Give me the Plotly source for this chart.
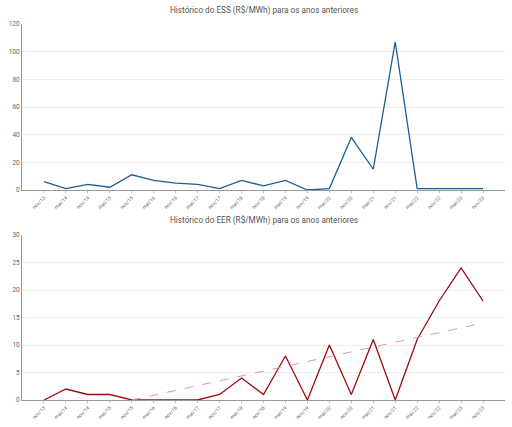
import plotly.graph_objects as go

# Períodos (semestres)
periodos = ["nov/13", "mai/14", "nov/14", "mai/15", "nov/15", "mai/16", "nov/16",
            "mai/17", "nov/17", "mai/18", "nov/18", "mai/19", "nov/19", "mai/20",
            "nov/20", "mai/21", "nov/21", "mai/22", "nov/22", "mai/23", "nov/23"]

# Valores
ess = [6, 1, 4, 2, 11, 7, 5, 4, 1, 7, 3, 7, 0, 1, 38, 15, 107, 1, 1, 1, 1]
eer = [0, 2, 1, 1, 0, 0, 0, 0, 1, 4, 1, 8, 0, 10, 1, 11, 0, 11, 18, 24, 18]

# Linha de tendência do EER (início e fim)
tend_x = ["nov/15", "nov/23"]
tend_y = [0, 14]

fig = go.Figure()

fig.add_trace(go.Scatter(x=periodos, y=ess, mode="lines",
                         line=dict(color="#1b5c98", width=1.3),
                         xaxis="x", yaxis="y"))
fig.add_trace(go.Scatter(x=periodos, y=eer, mode="lines",
                         line=dict(color="#9e0b0f", width=1.3),
                         xaxis="x2", yaxis="y2"))
fig.add_trace(go.Scatter(x=tend_x, y=tend_y, mode="lines",
                         line=dict(color="#e39a9a", width=1, dash="dash"),
                         xaxis="x2", yaxis="y2"))

eixo_x = dict(type="category", categoryorder="array", categoryarray=periodos,
              range=[-1, 21], tickangle=-45,
              tickfont=dict(size=5, color="#666"), showgrid=False,
              showline=True, linecolor="#999", linewidth=1,
              ticks="outside", ticklen=2, tickcolor="#bbb", zeroline=False)
eixo_y = dict(showgrid=True, gridcolor="#eeeeee", showline=True,
              linecolor="#999", linewidth=1, zeroline=False,
              tickfont=dict(size=6.5, color="#666"), ticks="")

fig.update_layout(
    width=512, height=427,
    margin=dict(l=22, r=7, t=24, b=27),
    paper_bgcolor="white", plot_bgcolor="white",
    showlegend=False,
    font=dict(family="Roboto", color="#444"),
    xaxis=dict(eixo_x, anchor="y"),
    yaxis=dict(eixo_y, domain=[0.5585, 1.0], range=[0, 120], dtick=20),
    xaxis2=dict(eixo_x, anchor="y2"),
    yaxis2=dict(eixo_y, domain=[0.0, 0.4388], range=[0, 30], dtick=5),
    annotations=[
        dict(text="Histórico do ESS (R$/MWh) para os anos anteriores",
             xref="paper", yref="paper", x=0.5, y=1, yshift=14,
             yanchor="middle", showarrow=False,
             font=dict(size=8.2, color="#555")),
        dict(text="Histórico do EER (R$/MWh) para os anos anteriores",
             xref="paper", yref="paper", x=0.5, y=0.4388, yshift=15,
             yanchor="middle", showarrow=False,
             font=dict(size=8.2, color="#555")),
    ],
)

# tira a margem padrão do body para o gráfico ocupar a janela toda
fig.write_html("out.html", config={"displayModeBar": False},
               post_script="document.body.style.margin='0';")
